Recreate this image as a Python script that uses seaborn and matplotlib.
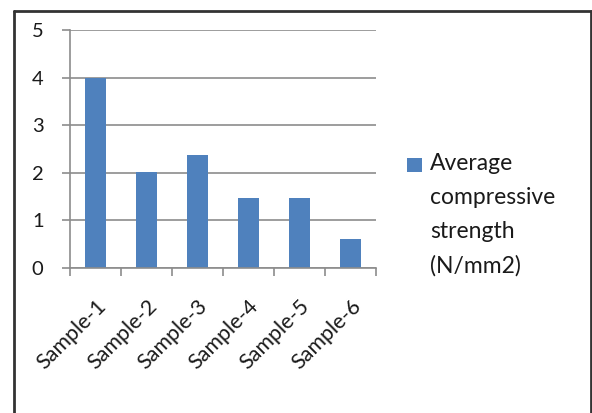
import matplotlib
matplotlib.use("Agg")
import matplotlib.pyplot as plt
import seaborn as sns
import pandas as pd
import numpy as np
from matplotlib.patches import Rectangle
from matplotlib.lines import Line2D

categories = ["Sample-1", "Sample-2", "Sample-3", "Sample-4", "Sample-5", "Sample-6"]
values = [4.0, 2.02, 2.37, 1.48, 1.48, 0.6]
series_name = "Average\ncompressive\nstrength\n(N/mm2)"
yticks = [0, 1, 2, 3, 4, 5]

sns.set_theme(style="white")
plt.rcParams['font.family'] = ['Lato', 'DejaVu Sans']

df = pd.DataFrame({"cat": categories, "val": values})

fig = plt.figure(figsize=(5.92, 4.13), dpi=100)
ax = fig.add_axes([70/592, 1 - 268/413, (376-70)/592, (268-30)/413])

bar_color = "#4F81BD"
sns.barplot(data=df, x="cat", y="val", color=bar_color, width=0.4, ax=ax,
            saturation=1, edgecolor="none")

grid_c = "#8C8C8C"
txt_c = "#1A1A1A"
ax.set_ylim(0, 5)
ax.set_xlim(-0.5, len(categories) - 0.5)
ax.set_yticks(yticks)
ax.set_yticklabels([str(t) for t in yticks])
ax.yaxis.grid(True, color=grid_c, linewidth=1.2)
ax.set_axisbelow(True)
ax.set_xlabel("")
ax.set_ylabel("")

# x ticks at category boundaries; labels at centers
ax.set_xticks(np.arange(len(categories) + 1) - 0.5)
ax.set_xticklabels([])
ax.set_xticks(np.arange(len(categories)), minor=True)
ax.set_xticklabels(categories, minor=True, rotation=45, ha="right",
                   rotation_mode="anchor", fontsize=15.5, color=txt_c)
ax.tick_params(axis="x", which="major", direction="out", length=6, width=1.2,
               color=grid_c, bottom=True)
ax.tick_params(axis="x", which="minor", length=0, pad=20, bottom=True)
ax.tick_params(axis="y", direction="out", length=6, width=1.2, color=grid_c,
               left=True, labelsize=14.5, pad=13, labelcolor=txt_c)

for s in ["top", "right"]:
    ax.spines[s].set_visible(False)
for s in ["left", "bottom"]:
    ax.spines[s].set_color(grid_c)
    ax.spines[s].set_linewidth(1.2)

# legend (drawn in figure coordinates)
fig.patches.append(Rectangle((407/592, 1 - 172/413), 15/592, 14/413,
                             transform=fig.transFigure, facecolor=bar_color,
                             edgecolor="none"))
fig.text(430/592, 1 - 153/413, series_name, ha="left", va="top",
         fontsize=16.5, color=txt_c, linespacing=1.75)

# outer chart border
border_c = "#333333"
fig.lines.append(Line2D([14/592, 14/592], [0, 1 - 11/413], transform=fig.transFigure,
                        color=border_c, linewidth=2))
fig.lines.append(Line2D([14/592, 591/592], [1 - 11/413, 1 - 11/413], transform=fig.transFigure,
                        color=border_c, linewidth=2))
fig.lines.append(Line2D([591/592, 591/592], [0, 1 - 11/413], transform=fig.transFigure,
                        color=border_c, linewidth=2))

fig.savefig("out.png", dpi=100)
